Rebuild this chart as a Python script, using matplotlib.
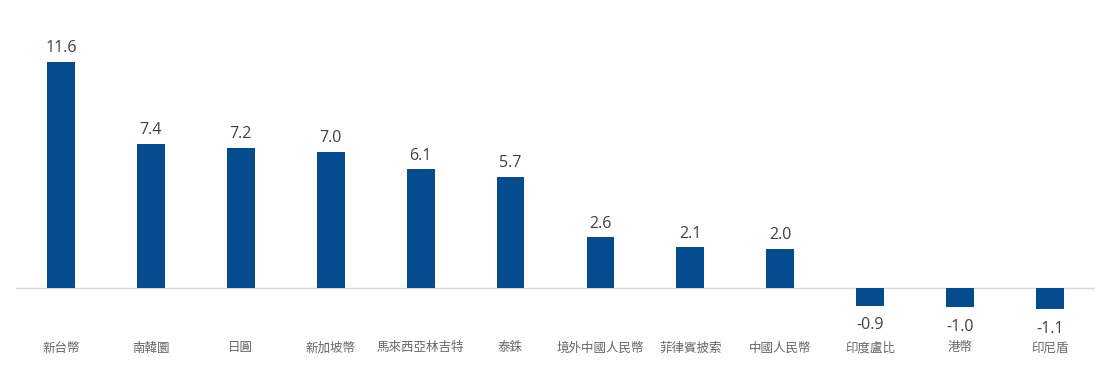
import matplotlib
matplotlib.use("Agg")
import matplotlib.pyplot as plt
import matplotlib.transforms as mtransforms

categories = ["新台幣", "南韓圜", "日圓", "新加坡幣", "馬來西亞林吉特", "泰銖",
              "境外中國人民幣", "菲律賓披索", "中國人民幣", "印度盧比", "港幣", "印尼盾"]
values = [11.6, 7.4, 7.2, 7.0, 6.1, 5.7, 2.6, 2.1, 2.0, -0.9, -1.0, -1.1]

W, H = 1111, 366
fig = plt.figure(figsize=(W / 100, H / 100), dpi=100)
ax = fig.add_axes([16 / W, (H - 320) / H, (1095 - 16) / W, 290 / H])

x = list(range(len(categories)))
bars = ax.bar(x, values, width=0.31, color="#044C8E", zorder=2)
ax.set_xlim(-0.5, len(categories) - 0.5)
ax.set_ylim(-32 / 19.48, 258 / 19.48)
ax.axhline(0, color="#D9D9D9", lw=1, zorder=1)
for s in ax.spines.values():
    s.set_visible(False)
ax.set_xticks([])
ax.set_yticks([])

for xi, v in zip(x, values):
    if v >= 0:
        ax.annotate(f"{v:.1f}", (xi, v), xytext=(0, 4), textcoords="offset points",
                    ha="center", va="bottom", fontsize=11.5, color="#404040",
                    family=["Open Sans", "DejaVu Sans"])
    else:
        ax.annotate(f"{v:.1f}", (xi, v), xytext=(0, -8), textcoords="offset points",
                    ha="center", va="top", fontsize=11.5, color="#404040",
                    family=["Open Sans", "DejaVu Sans"])

trans = mtransforms.blended_transform_factory(ax.transData, fig.transFigure)
for xi, c in zip(x, categories):
    ax.text(xi, 1 - 348 / H, c, transform=trans, ha="center", va="center",
            fontsize=9, color="#666666", family=["Noto Sans CJK TC", "DejaVu Sans"])

fig.savefig("out.png", dpi=100)
